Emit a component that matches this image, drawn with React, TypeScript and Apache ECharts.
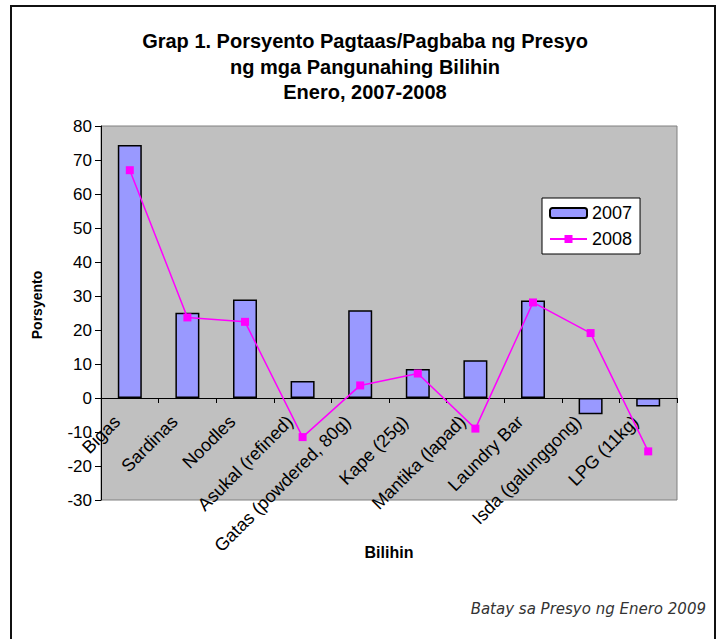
import React, { useEffect, useRef } from "react";
import * as echarts from "echarts";

const categories = [
  "Bigas",
  "Sardinas",
  "Noodles",
  "Asukal (refined)",
  "Gatas (powdered, 80g)",
  "Kape (25g)",
  "Mantika (lapad)",
  "Laundry Bar",
  "Isda (galunggong)",
  "LPG (11kg)",
];
const values2007 = [74.4, 25.1, 29.0, 5.0, 25.8, 8.5, 11.1, 28.7, -4.8, -2.5];
const values2008 = [67.0, 23.7, 22.4, -11.5, 3.7, 7.2, -9.0, 28.1, 19.1, -15.7];
const titleLines = [
  "Grap 1. Porsyento Pagtaas/Pagbaba ng Presyo",
  "ng mga Pangunahing Bilihin",
  "Enero, 2007-2008",
];
const yAxisTitle = "Porsyento";
const xAxisTitle = "Bilihin";
const footnote = "Batay sa Presyo ng Enero 2009";

const FONT = "'Liberation Sans', Arial, sans-serif";

export default function App() {
  const ref = useRef<HTMLDivElement>(null);
  useEffect(() => {
    if (!ref.current) return;
    const chart = echarts.init(ref.current, undefined, { renderer: "svg" });
    chart.setOption({
      animation: false,
      backgroundColor: "#ffffff",
      textStyle: { fontFamily: FONT },
      grid: {
        left: 101,
        top: 126,
        right: 39,
        bottom: 139,
        show: true,
        backgroundColor: "#c0c0c0",
        borderColor: "#808080",
        borderWidth: 1,
      },
      legend: {
        orient: "vertical",
        left: 542,
        top: 198,
        backgroundColor: "#ffffff",
        borderColor: "#000000",
        borderWidth: 1,
        padding: [6, 8, 6, 7],
        itemWidth: 37,
        itemHeight: 10,
        itemGap: 8,
        textStyle: { fontSize: 18, color: "#000", fontFamily: FONT },
        data: ["2007", "2008"],
      },
      xAxis: {
        type: "category",
        data: categories,
        offset: -102,
        axisLine: { onZero: false, lineStyle: { color: "#000", width: 1 } },
        axisTick: { show: true, length: 5, lineStyle: { color: "#000" } },
        axisLabel: {
          rotate: 45,
          fontSize: 18,
          color: "#000",
          fontFamily: FONT,
          margin: 8,
          padding: [0, 18, 0, 0],
          interval: 0,
        },
        splitLine: { show: false },
      },
      yAxis: {
        type: "value",
        min: -30,
        max: 80,
        interval: 10,
        axisLine: { show: true, lineStyle: { color: "#000", width: 1 } },
        axisTick: { show: true, length: 6, lineStyle: { color: "#000" } },
        axisLabel: { fontSize: 17, color: "#000", fontFamily: FONT, margin: 9 },
        splitLine: { show: false },
      },
      series: [
        {
          name: "2007",
          type: "bar",
          data: values2007,
          barWidth: 24,
          itemStyle: { color: "#9999ff", borderColor: "#000", borderWidth: 1.5 },
        },
        {
          name: "2008",
          type: "line",
          data: values2008,
          symbol: "rect",
          symbolSize: 8,
          lineStyle: { color: "#ff00ff", width: 1.5 },
          itemStyle: { color: "#ff00ff" },
        },
      ],
      graphic: [
        {
          type: "rect",
          shape: { x: 11, y: 6, width: 704, height: 640 },
          style: { fill: "none", stroke: "#111", lineWidth: 2 },
          silent: true,
        },
        ...titleLines.map((t, i) => ({
          type: "text",
          x: 365,
          y: 41 + i * 25.5,
          style: {
            text: t,
            fill: "#000",
            font: `bold 20px ${FONT}`,
            textAlign: "center",
            textVerticalAlign: "middle",
          },
        })),
        {
          type: "text",
          x: 37,
          y: 305,
          rotation: Math.PI / 2,
          style: {
            text: yAxisTitle,
            fill: "#000",
            font: `bold 14px ${FONT}`,
            textAlign: "center",
            textVerticalAlign: "middle",
          },
        },
        {
          type: "text",
          x: 389,
          y: 552,
          style: {
            text: xAxisTitle,
            fill: "#000",
            font: `bold 16px ${FONT}`,
            textAlign: "center",
            textVerticalAlign: "middle",
          },
        },
        {
          type: "text",
          x: 706,
          y: 609,
          style: {
            text: footnote,
            fill: "#333",
            font: `italic 15px 'DejaVu Sans', sans-serif`,
            textAlign: "right",
            textVerticalAlign: "middle",
          },
        },
      ],
    });
    return () => chart.dispose();
  }, []);
  return (
    <div
      ref={ref}
      style={{ position: "fixed", left: 0, top: 0, width: 716, height: 639 }}
    />
  );
}
